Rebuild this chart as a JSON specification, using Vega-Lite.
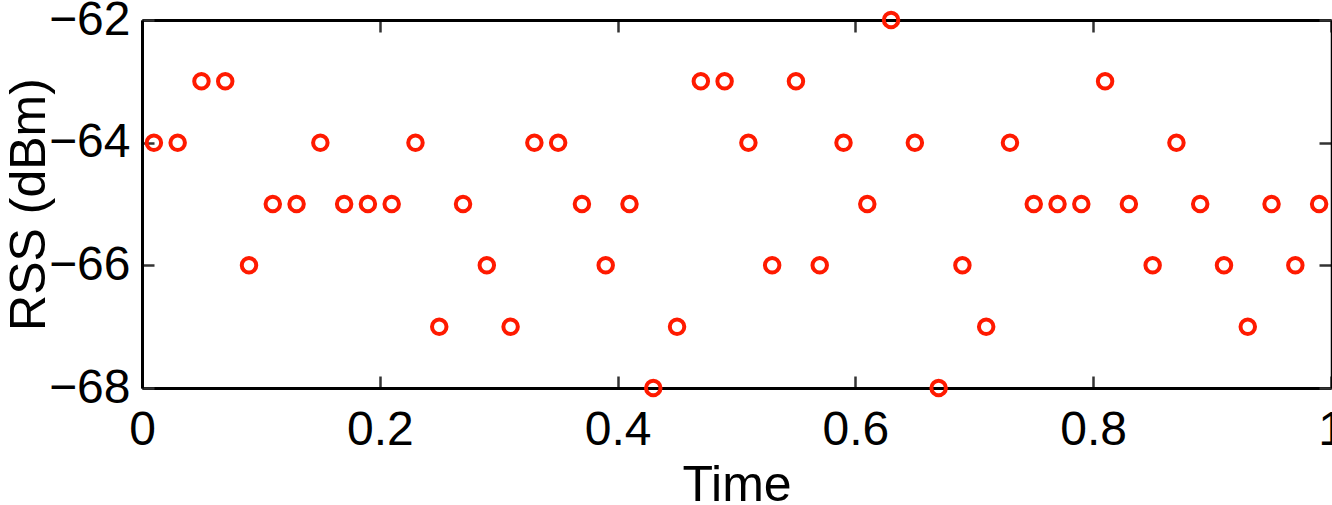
{
  "$schema": "https://vega.github.io/schema/vega-lite/v6.json",
  "autosize": "none",
  "padding": {"left": 142, "top": 20, "right": 1, "bottom": 117},
  "width": 1189,
  "height": 368,
  "background": "white",
  "config": {
    "view": {"stroke": null},
    "font": "Liberation Sans",
    "axis": {
      "grid": false,
      "domainColor": "black",
      "domainWidth": 3,
      "tickColor": "#333333",
      "tickWidth": 2.5,
      "tickSize": -12,
      "labelFont": "Liberation Sans",
      "labelFontSize": 48,
      "labelColor": "black",
      "titleFont": "Liberation Sans",
      "titleFontSize": 50,
      "titleFontWeight": "normal",
      "titleColor": "black"
    }
  },
  "data": {
    "values": [
      {"time": 0.01, "rss": -64}, {"time": 0.03, "rss": -64}, {"time": 0.05, "rss": -63}, {"time": 0.07, "rss": -63},
      {"time": 0.09, "rss": -66}, {"time": 0.11, "rss": -65}, {"time": 0.13, "rss": -65}, {"time": 0.15, "rss": -64},
      {"time": 0.17, "rss": -65}, {"time": 0.19, "rss": -65}, {"time": 0.21, "rss": -65}, {"time": 0.23, "rss": -64},
      {"time": 0.25, "rss": -67}, {"time": 0.27, "rss": -65}, {"time": 0.29, "rss": -66}, {"time": 0.31, "rss": -67},
      {"time": 0.33, "rss": -64}, {"time": 0.35, "rss": -64}, {"time": 0.37, "rss": -65}, {"time": 0.39, "rss": -66},
      {"time": 0.41, "rss": -65}, {"time": 0.43, "rss": -68}, {"time": 0.45, "rss": -67}, {"time": 0.47, "rss": -63},
      {"time": 0.49, "rss": -63}, {"time": 0.51, "rss": -64}, {"time": 0.53, "rss": -66}, {"time": 0.55, "rss": -63},
      {"time": 0.57, "rss": -66}, {"time": 0.59, "rss": -64}, {"time": 0.61, "rss": -65}, {"time": 0.63, "rss": -62},
      {"time": 0.65, "rss": -64}, {"time": 0.67, "rss": -68}, {"time": 0.69, "rss": -66}, {"time": 0.71, "rss": -67},
      {"time": 0.73, "rss": -64}, {"time": 0.75, "rss": -65}, {"time": 0.77, "rss": -65}, {"time": 0.79, "rss": -65},
      {"time": 0.81, "rss": -63}, {"time": 0.83, "rss": -65}, {"time": 0.85, "rss": -66}, {"time": 0.87, "rss": -64},
      {"time": 0.89, "rss": -65}, {"time": 0.91, "rss": -66}, {"time": 0.93, "rss": -67}, {"time": 0.95, "rss": -65},
      {"time": 0.97, "rss": -66}, {"time": 0.99, "rss": -65}
    ]
  },
  "layer": [
    {
      "mark": {"type": "point", "shape": "circle", "filled": false, "color": "#ff1a00", "size": 210, "strokeWidth": 4, "opacity": 1, "clip": false},
      "encoding": {
        "x": {"field": "time", "type": "quantitative", "scale": {"domain": [0, 1], "nice": false, "zero": false},
              "axis": {"orient": "bottom", "title": "Time", "format": "~g", "values": [0, 0.2, 0.4, 0.6, 0.8, 1], "labelPadding": 30, "titlePadding": 6, "labelFlush": false, "labelOverlap": false}},
        "y": {"field": "rss", "type": "quantitative", "scale": {"domain": [-68, -62], "nice": false, "zero": false},
              "axis": {"orient": "left", "title": "RSS (dBm)", "values": [-68, -66, -64, -62], "labelPadding": 24, "titlePadding": -6, "labelFlush": false, "labelOverlap": false}}
      }
    },
    {
      "mark": {"type": "point", "opacity": 0},
      "encoding": {
        "x": {"field": "time", "type": "quantitative", "scale": {"domain": [0, 1], "nice": false, "zero": false},
              "axis": {"orient": "top", "title": null, "labels": false, "values": [0, 0.2, 0.4, 0.6, 0.8, 1]}},
        "y": {"field": "rss", "type": "quantitative", "scale": {"domain": [-68, -62], "nice": false, "zero": false},
              "axis": {"orient": "right", "title": null, "labels": false, "domainWidth": 1.5, "values": [-68, -66, -64, -62]}}
      }
    }
  ],
  "resolve": {"axis": {"x": "independent", "y": "independent"}}
}
